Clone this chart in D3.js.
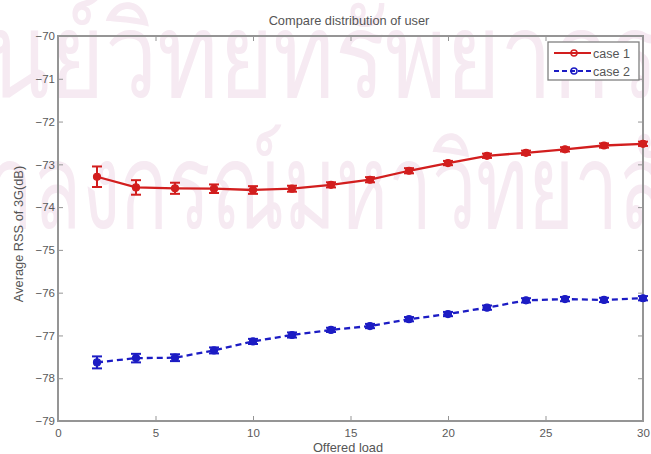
<!DOCTYPE html>
<html>
<head>
<meta charset="utf-8">
<script src="https://cdn.jsdelivr.net/npm/d3@7"></script>
<style>
  body { margin: 0; background: #fff; }
  text { font-family: "Liberation Sans", Arial, sans-serif; }
</style>
</head>
<body>
<script>
const load = [2, 4, 6, 8, 10, 12, 14, 16, 18, 20, 22, 24, 26, 28, 30];
const case1 = [-73.29, -73.54, -73.56, -73.57, -73.60, -73.57, -73.48, -73.36, -73.15, -72.97, -72.80, -72.73, -72.65, -72.56, -72.52];
const case1Err = [0.24, 0.17, 0.13, 0.1, 0.09, 0.07, 0.06, 0.06, 0.06, 0.05, 0.05, 0.05, 0.05, 0.05, 0.05];
const case2 = [-77.63, -77.53, -77.52, -77.35, -77.14, -76.99, -76.87, -76.78, -76.62, -76.50, -76.35, -76.18, -76.15, -76.17, -76.13];
const case2Err = [0.14, 0.1, 0.08, 0.07, 0.06, 0.06, 0.05, 0.05, 0.05, 0.05, 0.05, 0.05, 0.05, 0.05, 0.05];
const xTicks = [0, 5, 10, 15, 20, 25, 30];
const yTicks = [-70, -71, -72, -73, -74, -75, -76, -77, -78, -79];
const watermark = ["ศูนย์วิทยทรัพยากร", "จุฬาลงกรณ์มหาวิทยาลัย"];

const width = 651, height = 454;
const m = { left: 58, right: 8, top: 36, bottom: 33 };

const svg = d3.select("body").append("svg")
  .attr("width", width)
  .attr("height", height);

// faint watermark behind the plot. two glyphs of each row are pinned to
// where they sit in the scan; the row is squeezed sideways to fit them
const wmRows = [
  { text: watermark[0], a: "ศูน", b: "ศูนย์วิทยทรัพยา", ax: 50, bx: 553, base: 97 },
  { text: watermark[1], a: "จุฬาลง", b: "จุฬาลงกรณ์มหาวิทยา", ax: 120, bx: 618, base: 228 }
];
const wmSize = 118;
wmRows.forEach(r => {
  const g = svg.append("g");
  const probe = g.append("text").attr("font-size", wmSize);
  const wa = probe.text(r.a).node().getComputedTextLength();
  const wb = probe.text(r.b).node().getComputedTextLength();
  probe.remove();
  const k = (r.bx - r.ax) / (wb - wa);
  g.attr("transform", `translate(${r.ax - wa * k},${r.base}) scale(${k},1)`);
  g.append("text")
    .attr("font-size", wmSize)
    .attr("fill", "#f6eaf2")
    .text(r.text);
});

const x = d3.scaleLinear().domain([0, 30]).range([m.left, width - m.right]);
const y = d3.scaleLinear().domain([-79, -70]).range([height - m.bottom, m.top]);

const axisColor = "#959595";
const labelColor = "#5a5a5a";

function styleAxis(g, showText) {
  g.select(".domain").remove();
  g.selectAll(".tick line").attr("stroke", axisColor);
  g.selectAll(".tick text")
    .attr("fill", showText ? labelColor : "none")
    .attr("font-size", 11.5);
}

svg.append("g")
  .attr("transform", `translate(0,${height - m.bottom})`)
  .call(d3.axisBottom(x).tickValues(xTicks).tickSize(-5).tickPadding(8))
  .call(g => styleAxis(g, true));
svg.append("g")
  .attr("transform", `translate(0,${m.top})`)
  .call(d3.axisTop(x).tickValues(xTicks).tickSize(-5).tickFormat(""))
  .call(g => styleAxis(g, false));
svg.append("g")
  .attr("transform", `translate(${m.left},0)`)
  .call(d3.axisLeft(y).tickValues(yTicks).tickSize(-5).tickPadding(3))
  .call(g => styleAxis(g, true));
svg.append("g")
  .attr("transform", `translate(${width - m.right},0)`)
  .call(d3.axisRight(y).tickValues(yTicks).tickSize(-5).tickFormat(""))
  .call(g => styleAxis(g, false));

svg.append("rect")
  .attr("x", m.left).attr("y", m.top)
  .attr("width", width - m.left - m.right)
  .attr("height", height - m.top - m.bottom)
  .attr("fill", "none")
  .attr("stroke", axisColor)
  .attr("stroke-width", 2);

const series = [
  { name: "case 1", vals: case1, err: case1Err, color: "#d21e1e", dash: null },
  { name: "case 2", vals: case2, err: case2Err, color: "#1c1cc4", dash: "6,4" }
];

const line = d3.line().x(d => x(d[0])).y(d => y(d[1]));

series.forEach(s => {
  const pts = load.map((l, i) => [l, s.vals[i], s.err[i]]);
  const g = svg.append("g");
  g.append("path")
    .datum(pts)
    .attr("d", line)
    .attr("fill", "none")
    .attr("stroke", s.color)
    .attr("stroke-width", 2.3)
    .attr("stroke-dasharray", s.dash);
  // error bars
  const eb = g.selectAll("g.eb").data(pts).enter().append("g");
  eb.append("line")
    .attr("x1", d => x(d[0])).attr("x2", d => x(d[0]))
    .attr("y1", d => y(d[1] - d[2])).attr("y2", d => y(d[1] + d[2]))
    .attr("stroke", s.color).attr("stroke-width", 2);
  [1, -1].forEach(sign => {
    eb.append("line")
      .attr("x1", d => x(d[0]) - 5).attr("x2", d => x(d[0]) + 5)
      .attr("y1", d => y(d[1] + sign * d[2])).attr("y2", d => y(d[1] + sign * d[2]))
      .attr("stroke", s.color).attr("stroke-width", 2);
  });
  g.selectAll("circle").data(pts).enter().append("circle")
    .attr("cx", d => x(d[0])).attr("cy", d => y(d[1]))
    .attr("r", 3.5)
    .attr("fill", s.color)
    .attr("stroke", s.color)
    .attr("stroke-width", 1.2);
});

// title and axis labels
const labelFont = 12.8;
svg.append("text")
  .attr("x", 349).attr("y", 25)
  .attr("text-anchor", "middle")
  .attr("font-size", labelFont)
  .attr("fill", "#555")
  .text("Compare distribution of user");
svg.append("text")
  .attr("x", 348).attr("y", 452)
  .attr("text-anchor", "middle")
  .attr("font-size", labelFont)
  .attr("fill", "#555")
  .text("Offered load");
svg.append("text")
  .attr("transform", `translate(23,234) rotate(-90)`)
  .attr("text-anchor", "middle")
  .attr("font-size", labelFont)
  .attr("fill", "#555")
  .text("Average RSS of 3G(dB)");

// legend
const lg = svg.append("g").attr("transform", "translate(548,42)");
lg.append("rect")
  .attr("width", 91).attr("height", 38)
  .attr("fill", "#fff")
  .attr("stroke", "#808080")
  .attr("stroke-width", 1.3);
series.forEach((s, i) => {
  const yy = 11 + i * 18;
  lg.append("line")
    .attr("x1", 6).attr("x2", 43)
    .attr("y1", yy).attr("y2", yy)
    .attr("stroke", s.color).attr("stroke-width", 2)
    .attr("stroke-dasharray", s.dash ? "5,3" : null);
  lg.append("circle")
    .attr("cx", 26).attr("cy", yy).attr("r", 3)
    .attr("fill", "none").attr("stroke", s.color).attr("stroke-width", 1.5);
  lg.append("text")
    .attr("x", 45).attr("y", yy + 4.5)
    .attr("font-size", 12.5)
    .attr("fill", "#555")
    .text(s.name);
});
</script>
</body>
</html>
